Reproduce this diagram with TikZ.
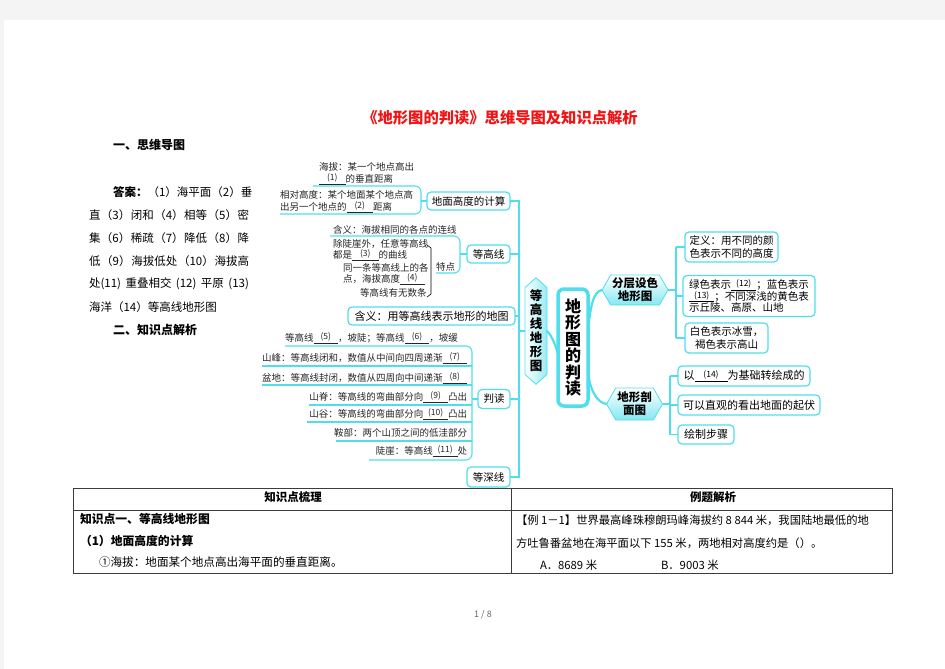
\documentclass[tikz,border=0pt]{standalone}
\usepackage{fontspec}
\setmainfont{Noto Sans CJK SC}
\usetikzlibrary{shapes.symbols,calc}
\definecolor{cyanline}{RGB}{80,222,236}
\definecolor{pagegray}{RGB}{244,244,244}
\definecolor{titlered}{RGB}{240,20,20}
\definecolor{tablegray}{RGB}{60,60,60}
\newcommand\fs[2]{\fontsize{#1pt}{#2pt}\selectfont}
\newcommand\blk[2]{\underline{\makebox[#1]{\raisebox{0.3ex}{\fontsize{8.5pt}{8.5pt}\selectfont(#2)}}}}
\newcommand\jline[1]{\makebox[160pt][s]{#1}}
\begin{document}
\begin{tikzpicture}[x=1pt,y=-1pt,
  every node/.style={inner sep=0pt, outer sep=0pt},
  mbox/.style={draw=cyanline, line width=1.2pt, rounded corners=4pt, fill=white, align=center},
  item/.style={font=\fs{9.5}{11.5}, align=left, text=black!85},
  link/.style={draw=cyanline, line width=1.1pt},
  trunklink/.style={draw=cyanline, line width=2.2pt, line cap=round},
  hexa/.style={signal, signal to=east and west, signal pointer angle=120, draw=cyanline, line width=0.8pt, top color=white, bottom color=cyanline!70, align=center, font=\bfseries\fs{11.5}{13}},
  vhexa/.style={signal, signal to=north and south, signal pointer angle=96, draw=cyanline, line width=0.8pt, left color=white, right color=cyanline!60, align=center, font=\bfseries\fs{12.5}{14}},
  body/.style={anchor=west, font=\fs{11.5}{14}},
  cell/.style={anchor=west, font=\fs{11.6}{14}}]
\useasboundingbox (0,0) rectangle (945,669);
\fill[pagegray] (0,0) rectangle (945,669);
\fill[white] (4,20) rectangle (945,669);

% title and headings
\node[font=\bfseries\fs{15.3}{18}, text=titlered] (title) at (500,118) {《地形图的判读》思维导图及知识点解析};
\node[anchor=west, font=\bfseries\fs{12}{14}] (h1) at (113,145) {一、思维导图};
\node[anchor=west, font=\bfseries\fs{12}{14}] (h2) at (113,330) {二、知识点解析};

% answers
\node[body] (a1) at (113,192) {\textbf{答案：}（1）海平面（2）垂};
\node[body] (a2) at (89,215) {\jline{直{\hfill}（3）{\hfill}闭和{\hfill}（4）{\hfill}相等{\hfill}（5）{\hfill}密}};
\node[body] (a3) at (89,238) {\jline{集{\hfill}（6）{\hfill}稀疏{\hfill}（7）{\hfill}降低{\hfill}（8）{\hfill}降}};
\node[body] (a4) at (89,261) {\jline{低{\hfill}（9）{\hfill}海拔低处{\hfill}（10）{\hfill}海拔高}};
\node[body] (a5) at (89,284) {\jline{处(11){\hfill}重叠相交{\hfill}(12){\hfill}平原{\hfill}(13)}};
\node[body] (a6) at (89,307) {海洋（14）等高线地形图};

% ---------- mind map: centre ----------
\node[draw=cyanline, line width=3.5pt, rounded corners=6pt, fill=white, minimum width=30pt, minimum height=117pt, align=center, font=\bfseries\fs{16}{16.5}] (main) at (573,347.5) {地\\形\\图\\的\\判\\读};
\node[vhexa, minimum width=22pt, minimum height=98pt] (left) at (536,331) {等\\高\\线\\地\\形\\图};
\node[hexa, minimum width=66pt, minimum height=30pt] (layer) at (635,290) {分层设色\\地形图};
\node[hexa, minimum width=56pt, minimum height=32pt] (section) at (634.5,404) {地形剖\\面图};

\draw[trunklink] (left.east) .. controls (552,336) and (556,346) .. ($(main.west)+(1,10)$);
\draw[trunklink] ($(main.east)+(0,-14)$) .. controls (590,305) and (594,291) .. (layer.west);
\draw[trunklink] ($(main.east)+(0,24)$) .. controls (590,392) and (598,403) .. (section.west);

% ---------- left branch boxes ----------
\node[mbox, minimum width=83pt, minimum height=18pt, font=\fs{10.5}{12}] (calc) at (468.5,201) {地面高度的计算};
\node[mbox, minimum width=43pt, minimum height=18pt, font=\fs{10.5}{12}] (contour) at (488.5,254) {等高线};
\node[mbox, minimum width=167pt, minimum height=18pt, font=\fs{11}{13}] (def) at (431.5,316) {含义：用等高线表示地形的地图};
\node[mbox, minimum width=32pt, minimum height=19pt, font=\fs{10.5}{12}] (read) at (494,399) {判读};
\node[mbox, minimum width=43pt, minimum height=20pt, font=\fs{10.5}{12}] (depth) at (488.5,477) {等深线};

\coordinate (tTop) at (519,201);
\coordinate (tBot) at (519,477);
\draw[link] (calc.east) -- (tTop) -- (tBot) -- (depth.east);
\draw[link] (contour.east) -- (contour.east -| tTop);
\draw[link] (def.east) -- (def.east -| tTop);
\draw[link] (read.east) -- (read.east -| tTop);
\draw[link] (left.west) -- (left.west -| tTop);

% ---------- heights group ----------
\node[item, anchor=west] (alt1) at (319,167) {海拔：某一个地点高出};
\node[item, anchor=west] (alt2) at (319,179) {\blk{2.8em}{1}的垂直距离};
\node[item, anchor=west] (rel1) at (280,195) {相对高度：某个地面某个地点高};
\node[item, anchor=west] (rel2) at (280,207) {出另一个地点的\blk{2.8em}{2}距离};
\coordinate (hTop) at (313,186);
\coordinate (hBot) at (280,214);
\draw[link, rounded corners=6pt] (hTop) -- (421,186) -- (421,214) -- (hBot);
\draw[link] (421,201) -- (calc.west);

% ---------- contour group ----------
\node[item, anchor=west] (mean) at (333,230) {含义：海拔相同的各点的连线};
\node[item, anchor=west] (c1a) at (333,244) {除陡崖外，任意等高线};
\node[item, anchor=west] (c1b) at (333,255) {都是\blk{2.8em}{3}的曲线};
\node[item, anchor=west] (c2a) at (343,268) {同一条等高线上的各};
\node[item, anchor=west] (c2b) at (343,279) {点，海拔高度\blk{2.6em}{4}};
\node[item, anchor=west] (c3) at (360,293) {等高线有无数条};
\node[item, anchor=west] (feat) at (436,267) {特点};
\draw[black, line width=0.6pt] (427,245) -- (431,248) -- (431,294) -- (427,297);
\coordinate (cTop) at (330,236);
\coordinate (cBot) at (436,273);
\draw[link, rounded corners=6pt] (cTop) -- (460,236) -- (460,273) -- (cBot);
\draw[link] (460,254) -- (contour.west);

% ---------- reading group ----------
\node[item, anchor=west] (r1) at (285,338) {等高线\blk{2.6em}{5}，坡陡；等高线\blk{2.6em}{6}，坡缓};
\node[item, anchor=west] (r2) at (262,358) {山峰：等高线闭和，数值从中间向四周递渐\blk{2.6em}{7}};
\node[item, anchor=west] (r3) at (262,378) {盆地：等高线封闭，数值从四周向中间递渐\blk{2.6em}{8}};
\node[item, anchor=east] (r4) at (467,397) {山脊：等高线的弯曲部分向\blk{2.6em}{9}凸出};
\node[item, anchor=east] (r5) at (467,414) {山谷：等高线的弯曲部分向\blk{2.6em}{10}凸出};
\node[item, anchor=east] (r6) at (467,433) {鞍部：两个山顶之间的低洼部分};
\node[item, anchor=east] (r7) at (467,451) {陡崖：等高线\blk{2.6em}{11}处};
\draw[link, rounded corners=6pt] (285,346) -- (472,346) -- (472,460) -- (369,460);
\draw[link] (262,366) -- (472,366);
\draw[link] (262,385) -- (472,385);
\draw[link] (309,405) -- (472,405);
\draw[link] (307,422) -- (472,422);
\draw[link] (336,441) -- (472,441);
\draw[link] (472,399) -- (read.west);

% ---------- right branches ----------
\node[mbox, minimum width=93pt, minimum height=30pt, font=\fs{10.5}{13}, align=left] (bdef) at (731.5,247) {定义：用不同的颜\\色表示不同的高度};
\node[mbox, minimum width=132pt, minimum height=41pt, font=\fs{10.5}{11.5}, align=left] (bgreen) at (749,296) {绿色表示\blk{2.4em}{12}；蓝色表示\\\blk{2.4em}{13}；不同深浅的黄色表\\示丘陵、高原、山地};
\node[mbox, minimum width=83pt, minimum height=30pt, font=\fs{10.5}{12.5}] (bwhite) at (726.5,338) {白色表示冰雪，\\褐色表示高山};
\draw[link] (layer.east) -- (676,290);
\draw[link] (676,247) -- (676,338);
\draw[link] (676,247) -- (bdef.west);
\draw[link] (676,296) -- (bgreen.west);
\draw[link] (676,338) -- (bwhite.west);

\node[mbox, minimum width=132pt, minimum height=20pt, font=\fs{11}{13}] (bbase) at (744,376) {以\blk{3em}{14}为基础转绘成的};
\node[mbox, minimum width=142pt, minimum height=20pt, font=\fs{11}{13}] (bview) at (749,405) {可以直观的看出地面的起伏};
\node[mbox, minimum width=56pt, minimum height=19pt, font=\fs{11}{13}] (bsteps) at (706,434.5) {绘制步骤};
\draw[link] (section.east) -- (670,404);
\draw[link] (670,376) -- (670,434.5);
\draw[link] (670,376) -- (bbase.west);
\draw[link] (670,405) -- (bview.west);
\draw[link] (670,434.5) -- (bsteps.west);

% ---------- table ----------
\draw[tablegray, line width=0.8pt] (73,488) rectangle (892,573);
\draw[tablegray, line width=0.8pt] (73,510) -- (892,510);
\draw[tablegray, line width=0.8pt] (511,488) -- (511,573);
\node[font=\bfseries\fs{11.5}{13}] (th1) at (293,497) {知识点梳理};
\node[font=\bfseries\fs{11.5}{13}] (th2) at (713,497) {例题解析};
\node[cell, font=\bfseries\fs{11.8}{14}] (k1) at (80,519) {知识点一、等高线地形图};
\node[cell, font=\bfseries\fs{11.8}{14}] (k2) at (80,541) {（1）地面高度的计算};
\node[cell] (k3) at (99,562) {①海拔：地面某个地点高出海平面的垂直距离。};
\node[cell, font=\fs{11.3}{14}] (e1) at (516,520) {【例 1－1】世界最高峰珠穆朗玛峰海拔约 8 844 米，我国陆地最低的地};
\node[cell, font=\fs{11.3}{14}] (e2) at (516,543) {方吐鲁番盆地在海平面以下 155 米，两地相对高度约是（）。};
\node[cell, font=\fs{11.3}{14}] (e3) at (540,565) {A．8689 米};
\node[cell, font=\fs{11.3}{14}] (e4) at (661,565) {B．9003 米};

\node[font=\fs{9}{11}, text=black!60] (pg) at (483,615) {1 / 8};
\end{tikzpicture}
\end{document}
